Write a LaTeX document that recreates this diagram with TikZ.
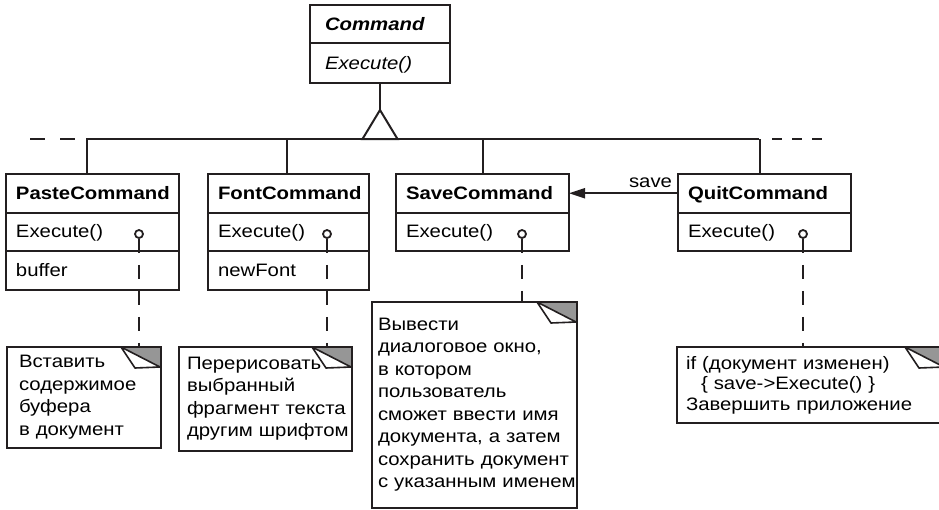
\documentclass[tikz,border=0pt]{standalone}
\usepackage{fontspec}
\setmainfont{Liberation Sans}[FakeStretch=1.13]
\usetikzlibrary{arrows.meta,positioning}

\definecolor{ink}{RGB}{35,31,32}
\definecolor{foldgray}{RGB}{150,150,150}
\newcommand{\diagfont}{\fontsize{18}{22.5}\selectfont}

\tikzset{
  uml/.style={draw=ink, line width=2pt},
  classbox/.style={uml, anchor=north west, outer sep=0pt, inner xsep=10pt, inner ysep=0pt,
    text height=13pt, text depth=1pt, align=left, minimum height=38.5pt},
  cname/.style={classbox, font=\diagfont\bfseries},
  opdot/.style={circle, draw=ink, line width=1.8pt, fill=white, inner sep=0pt, minimum size=8pt},
  noteline/.style={draw=ink, line width=2pt, dash pattern=on 14pt off 12pt},
  assoc/.style={uml, -{Triangle[length=16pt,width=10pt]}},
  note/.style={uml, fill=white, anchor=north west, outer sep=0pt, align=left,
    path picture={
      \fill[foldgray] ([xshift=-40pt]path picture bounding box.north east)
        -- (path picture bounding box.north east)
        -- ([yshift=-20pt]path picture bounding box.north east) -- cycle;
      \draw[ink, line width=1.6pt, fill=white, line join=round]
        ([xshift=-40pt]path picture bounding box.north east)
        -- ([xshift=-26pt,yshift=-21pt]path picture bounding box.north east)
        -- ([xshift=-1pt,yshift=-20pt]path picture bounding box.north east) -- cycle;
    }}
}

\begin{document}
\begin{tikzpicture}[x=1pt, y=-1pt, font=\diagfont]
\useasboundingbox (0,0) rectangle (939,509);

% abstract class
\node[cname, font=\diagfont\bfseries\itshape, inner xsep=15pt, text width=110pt, minimum height=38pt] (cmd) at (310,5) {Command};
\node[classbox, font=\diagfont\itshape, inner xsep=15pt, text width=110pt, minimum height=40pt] (cmdop) at (cmd.south west) {Execute()};

% concrete commands
\node[cname, text width=153pt] (pastecmd) at (6,174) {PasteCommand};
\node[classbox, text width=153pt] (pasteop) at (pastecmd.south west) {Execute()};
\node[classbox, text width=153pt] (pasteattr) at (pasteop.south west) {buffer};

\node[cname, text width=141pt] (fontcmd) at (208,174) {FontCommand};
\node[classbox, text width=141pt] (fontop) at (fontcmd.south west) {Execute()};
\node[classbox, text width=141pt] (fontattr) at (fontop.south west) {newFont};

\node[cname, text width=153pt] (savecmd) at (396,174) {SaveCommand};
\node[classbox, text width=153pt] (saveop) at (savecmd.south west) {Execute()};

\node[cname, text width=153pt] (quitcmd) at (678,174) {QuitCommand};
\node[classbox, text width=153pt] (quitop) at (quitcmd.south west) {Execute()};

% inheritance
\coordinate (apex) at ([yshift=-27pt]cmdop.south);
\coordinate (busL) at (86,139);
\coordinate (busR) at (759,139);
\draw[uml] (cmdop.south) -- (apex);
\draw[uml, line join=miter] (apex) -- ++(-17.5,29) -- ++(35,0) -- cycle;
\draw[uml] (busL) -- (busR);
\draw[uml, dash pattern=on 15pt off 15pt] (busL) ++(-56,0) -- (busL);
\draw[uml, dash pattern=on 10pt off 10pt] (busR) ++(13,0) -- ++(50,0);
\foreach \c/\dx in {pastecmd/-6, fontcmd/-2, savecmd/0, quitcmd/-5}
  \draw[uml] ([xshift=\dx pt]\c.north) -- ([xshift=\dx pt]\c.north |- busL);

% association
\draw[assoc] (quitcmd.west) -- (savecmd.east) node[pos=0, anchor=south east, inner sep=5pt] {save};

% notes
\node[opdot] (pastedot) at (139,234) {};
\node[opdot] (fontdot) at (327,234) {};
\node[opdot] (savedot) at (522,234) {};
\node[opdot] (quitdot) at (803,234) {};

\node[note, inner xsep=12pt, inner ysep=8.5pt, text width=130pt] (pastenote) at (7,347)
  {Вставить\\содержимое\\буфера\\в~документ};
\node[note, inner xsep=8pt, inner ysep=10pt, text width=157pt] (fontnote) at (179,347)
  {Перерисовать\\выбранный\\фрагмент~текста\\другим~шрифтом};
\node[note, inner xsep=6pt, inner ysep=16pt, text width=193pt] (savenote) at (372,302)
  {Вывести\\диалоговое~окно,\\в~котором\\пользователь\\сможет~ввести~имя\\документа,~а~затем\\сохранить~документ\\с~указанным~именем};
\node[note, font=\fontsize{18}{20.5}\selectfont, inner xsep=9pt, inner ysep=9pt, text width=250pt] (quitnote) at (677,347)
  {if~(документ~изменен)\\\hspace*{15pt}\{~save->Execute()~\}\\Завершить~приложение};

\draw[noteline] (pastedot) -- (pastedot |- pastenote.north);
\draw[noteline] (fontdot) -- (fontdot |- fontnote.north);
\draw[noteline] (savedot) -- (savedot |- savenote.north);
\draw[noteline] (quitdot) -- (quitdot |- quitnote.north);
\end{tikzpicture}
\end{document}
